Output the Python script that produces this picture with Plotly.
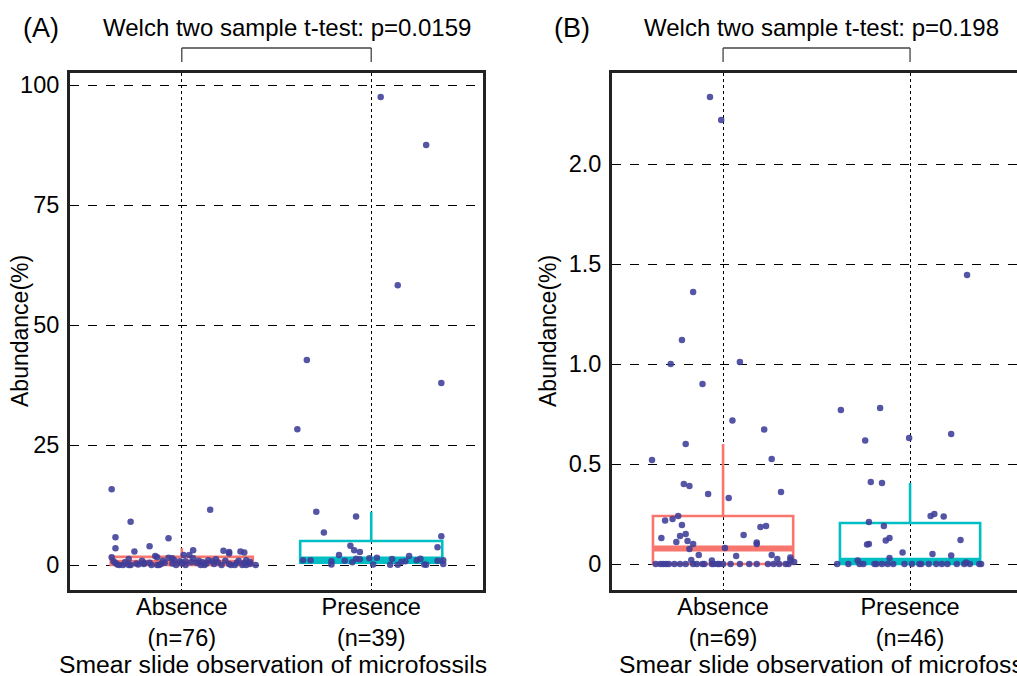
import plotly.graph_objects as go

W, H = 1017, 676
FONT = "Liberation Sans, Arial, sans-serif"
RED = "#F8766D"
CYAN = "#00BFC4"
DOT = "rgba(62,62,152,0.88)"
BOX_W = 0.75

groups = ["Absence", "Presence"]

# panel A: jitter offset (category units) and abundance (%)
a_abs_dx = [-0.37, -0.27, -0.35, -0.35, -0.25, -0.17, -0.07, 0.15, 0.06, 0.22, 0.25, 0.25, 0.31, 0.33,
            -0.37, -0.14, -0.13, -0.07, -0.05, -0.28, 0.01, 0.04, 0.14, 0.18, 0.34,
            -0.36, -0.35, -0.34, -0.31, -0.28, -0.27, -0.23, -0.20, -0.20, -0.17, -0.13, -0.11, -0.09,
            -0.05, -0.03, -0.01, 0.02, 0.02, 0.06, 0.08, 0.10, 0.12, 0.16, 0.17, 0.21, 0.25, 0.26, 0.29,
            0.32, 0.33, 0.34, 0.39, -0.33, -0.24, -0.16, -0.10, -0.04, 0.00, 0.05, 0.09, 0.13, 0.19,
            0.23, 0.28, 0.30, 0.36, -0.30, -0.21, -0.12, 0.11, 0.36]
a_abs_y = [15.8, 9.0, 5.8, 3.5, 2.8, 3.9, 5.6, 11.5, 3.1, 3.0, 2.4, 2.7, 2.8, 2.6,
           1.6, 1.9, 1.6, 1.5, 1.4, 1.25, 2.1, 2.1, 1.0, 1.2, 1.0,
           0.8, 0.4, 0.1, 0.0, 0.0, 0.0, 0.1, 0.5, 0.2, 0.5, 0.0, 0.2, 0.5,
           0.3, 0.0, 0.8, 0.8, 0.0, 1.4, 0.4, 0.0, 0.0, 0.8, 0.2, 0.0, 0.2, 0.0, 0.5,
           0.0, 0.4, 0.0, 0.0, 0.0, 0.3, 0.0, 0.9, 1.0, 0.3, 0.6, 0.9, 0.3, 0.6,
           0.9, 0.0, 0.9, 0.2, 0.6, 0.9, 0.0, 0.6, 0.7]
a_pre_dx = [0.05, 0.29, 0.14, 0.37, -0.34, -0.39, -0.29,
            -0.25, -0.08, 0.37, 0.35, -0.11, -0.09, -0.06, -0.17,
            -0.36, -0.32, -0.21, -0.21, -0.10, -0.08, -0.06, -0.01, 0.01, 0.03, 0.11, 0.10,
            0.14, 0.16, 0.18, 0.20, 0.24, 0.26, 0.28, 0.29, 0.35, 0.38, 0.38, -0.14]
a_pre_y = [97.5, 87.5, 58.3, 37.9, 42.7, 28.3, 11.1,
           6.8, 10.1, 6.0, 3.7, 4.0, 3.1, 2.7, 2.1,
           1.0, 1.0, 0.8, 0.1, 0.6, 1.3, 1.2, 1.4, 0.1, 1.5, 1.25, 0.05,
           0.05, 0.7, 0.8, 1.9, 1.0, 1.3, 0.1, 0.05, 0.9, 1.0, 0.2, 0.9]

# panel B
b_abs_dx = [-0.07, -0.01, -0.16, -0.22, -0.28, 0.09, -0.11,
            0.05, 0.22, -0.20, -0.38, 0.26, -0.21, -0.18, -0.08, 0.03, 0.31,
            -0.24, -0.27, -0.31, -0.22, 0.20, 0.23,
            -0.33, -0.23, -0.20, -0.25, -0.19, -0.16, 0.11, 0.18, 0.18,
            -0.18, 0.01, -0.13, 0.07, 0.26, 0.29, 0.36, 0.36, -0.17, -0.06,
            -0.36, -0.335, -0.32, -0.305, -0.29, -0.23, -0.20, -0.16, -0.14, -0.11, -0.06,
            -0.05, -0.03, -0.02, 0.00, 0.04, 0.14, 0.18, 0.30, 0.335, 0.35,
            -0.26, -0.10, 0.09, 0.24, 0.27, 0.38]
b_abs_y = [2.335, 2.22, 1.36, 1.12, 1.0, 1.01, 0.90,
           0.717, 0.673, 0.60, 0.52, 0.525, 0.40, 0.39, 0.35, 0.33, 0.36,
           0.24, 0.225, 0.217, 0.195, 0.185, 0.19,
           0.13, 0.14, 0.15, 0.11, 0.115, 0.10, 0.145, 0.10, 0.107,
           0.075, 0.08, 0.045, 0.04, 0.045, 0.025, 0.033, 0.02, 0.02, 0.018,
           0, 0, 0, 0, 0, 0, 0, 0, 0, 0, 0,
           0, 0, 0, 0, 0, 0, 0, 0, 0, 0,
           0, 0, 0, 0, 0, 0.01]
b_pre_dx = [-0.37, -0.16, -0.24, -0.005, 0.22, -0.21, -0.15, 0.11, 0.13, 0.18,
            -0.22, -0.14, -0.11, -0.13, -0.22, -0.23, 0.27, -0.04, 0.12, 0.22,
            -0.11, -0.28, 0.30, 0.305,
            -0.39, -0.27, -0.25, -0.19, -0.18, -0.15, -0.12, -0.09, -0.03, 0.01,
            0.05, 0.06, 0.17, 0.20, 0.25, 0.29, 0.32, 0.37, 0.38, -0.33, 0.10, 0.14]
b_pre_y = [0.77, 0.78, 0.617, 0.63, 0.65, 0.41, 0.405, 0.24, 0.25, 0.237,
           0.21, 0.19, 0.13, 0.118, 0.10, 0.097, 0.12, 0.058, 0.05, 0.043,
           0.03, 0.017, 0.008, 1.445,
           0, 0, 0, 0, 0, 0, 0, 0, 0, 0,
           0, 0, 0, 0, 0, 0, 0, 0, 0, 0, 0, 0]

# box summaries: q1, median, q3, upper whisker
a_box = {"Absence": (0.0, 0.5, 1.7, 3.5), "Presence": (0.5, 1.15, 5.0, 11.1)}
b_box = {"Absence": (0.0, 0.078, 0.24, 0.60), "Presence": (0.0, 0.016, 0.205, 0.405)}

a_n = {"Absence": 76, "Presence": 39}
b_n = {"Absence": 69, "Presence": 46}
a_pval = "0.0159"
b_pval = "0.198"


def px(x):
    return x / W


def py(y):
    return 1 - y / H


fig = go.Figure()

panels = [
    ("x", "y", a_box, [(a_abs_dx, a_abs_y), (a_pre_dx, a_pre_y)]),
    ("x2", "y2", b_box, [(b_abs_dx, b_abs_y), (b_pre_dx, b_pre_y)]),
]

for xa, ya, boxes, pts in panels:
    for i, g in enumerate(groups):
        c = i + 1
        col = RED if g == "Absence" else CYAN
        q1, med, q3, hi = boxes[g]
        fig.add_trace(go.Box(
            x=[c], q1=[q1], median=[med], q3=[q3], lowerfence=[q1], upperfence=[hi],
            orientation="v", width=BOX_W, whiskerwidth=0, boxpoints=False,
            fillcolor="rgba(255,255,255,0)", line=dict(color=col, width=2.6),
            xaxis=xa, yaxis=ya, showlegend=False, hoverinfo="skip",
        ))
        fig.add_trace(go.Scatter(
            x=[c - BOX_W / 2, c + BOX_W / 2], y=[med, med], mode="lines",
            line=dict(color=col, width=6), xaxis=xa, yaxis=ya,
            showlegend=False, hoverinfo="skip",
        ))
    for i, (dx, vals) in enumerate(pts):
        fig.add_trace(go.Scatter(
            x=[i + 1 + d for d in dx], y=vals, mode="markers",
            marker=dict(color=DOT, size=6.5, line=dict(width=0)),
            xaxis=xa, yaxis=ya, showlegend=False,
        ))

tick_font = dict(family=FONT, size=23.5, color="black")
common_x = dict(
    tickvals=[1, 2], showgrid=True, gridcolor="black", griddash="dot", gridwidth=1.2,
    zeroline=False, showline=True, linecolor="#222", linewidth=3, ticks="",
    tickfont=tick_font, ticklabelstandoff=-6,
)
common_y = dict(
    showgrid=True, gridcolor="black", griddash="dash", gridwidth=1.2, zeroline=False,
    showline=True, linecolor="#222", linewidth=3, ticks="", tickfont=tick_font,
    ticklabelstandoff=3,
)

fig.update_layout(
    width=W, height=H,
    margin=dict(l=0, r=0, t=0, b=0),
    paper_bgcolor="white", plot_bgcolor="white",
    font=dict(family=FONT, size=23, color="black"),
    xaxis=dict(domain=[px(70), px(483)], range=[0.41, 2.59], mirror=True,
               ticktext=[f"{g}<br>(n={a_n[g]})" for g in groups], **common_x),
    yaxis=dict(domain=[py(590), py(73)], range=[-5.2, 102.5], mirror=True,
               tickvals=[0, 25, 50, 75, 100], **common_y),
    xaxis2=dict(domain=[px(612), 1.0], range=[0.406, 2.572], mirror=True, anchor="y2",
                ticktext=[f"{g}<br>(n={b_n[g]})" for g in groups], **common_x),
    yaxis2=dict(domain=[py(590), py(73)], range=[-0.13, 2.455], anchor="x2", mirror=False,
                tickvals=[0, 0.5, 1.0, 1.5, 2.0], ticktext=["0", "0.5", "1.0", "1.5", "2.0"],
                **common_y),
)

ann = []
for tag, xa, xl, tx, ylx, xtx, pval in [
    ("(A)", "x", 21, 287, 20, 273, a_pval),
    ("(B)", "x2", 552, 821, 548, 833, b_pval),
]:
    ann.append(dict(text=tag, x=px(xl), y=py(28), xref="paper", yref="paper",
                    xanchor="left", yanchor="middle", showarrow=False, font=dict(size=27)))
    ann.append(dict(text=f"Welch two sample t-test: p={pval}", x=px(tx), y=py(28),
                    xref="paper", yref="paper", xanchor="center", yanchor="middle",
                    showarrow=False, font=dict(size=24)))
    ann.append(dict(text="Abundance(%)", x=px(ylx), y=py(331), xref="paper", yref="paper",
                    xanchor="center", yanchor="middle", textangle=-90, showarrow=False,
                    font=dict(size=23)))
    ann.append(dict(text="Smear slide observation of microfossils", x=px(xtx), y=py(664),
                    xref="paper", yref="paper", xanchor="center", yanchor="middle",
                    showarrow=False, font=dict(size=24.7)))
    # bracket joining the two groups
    for c in (1, 2):
        fig.add_shape(type="line", xref=xa, yref="paper", x0=c, x1=c, y0=py(62), y1=py(48),
                      line=dict(color="#444", width=1.3))
    fig.add_shape(type="line", xref=xa, yref="paper", x0=1, x1=2, y0=py(48), y1=py(48),
                  line=dict(color="#444", width=1.3))

fig.update_layout(annotations=ann)

fig.write_html("out.html", config={"displayModeBar": False},
               post_script="document.body.style.margin='0';")
